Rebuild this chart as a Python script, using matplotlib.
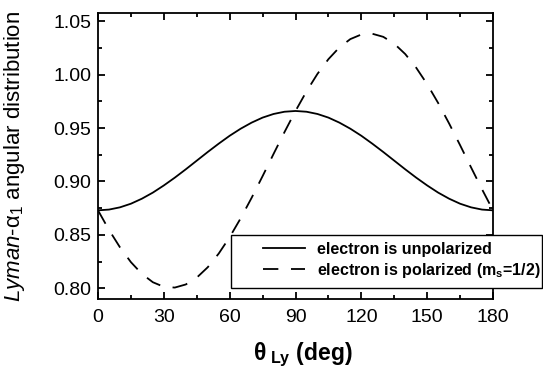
import matplotlib
matplotlib.use('Agg')
import matplotlib.pyplot as plt
from matplotlib.patches import Rectangle
from matplotlib.ticker import MultipleLocator

plt.rcParams['font.family'] = ['Liberation Sans', 'DejaVu Sans']
plt.rcParams['mathtext.fontset'] = 'custom'
plt.rcParams['mathtext.rm'] = 'Liberation Sans'
plt.rcParams['mathtext.it'] = 'Liberation Sans:italic'
plt.rcParams['mathtext.bf'] = 'Liberation Sans:bold'

# angle in degrees
theta = [0, 5, 10, 15, 20, 25, 30, 35, 40, 45, 50, 55, 60, 65, 70, 75, 80, 85, 90,
         95, 100, 105, 110, 115, 120, 125, 130, 135, 140, 145, 150, 155, 160, 165,
         170, 175, 180]
unpolarized = [0.873, 0.8737, 0.8758, 0.8792, 0.8839, 0.8896, 0.8963, 0.9036, 0.9114,
               0.9195, 0.9276, 0.9354, 0.9428, 0.9494, 0.9551, 0.9598, 0.9632, 0.9653,
               0.966, 0.9653, 0.9632, 0.9598, 0.9551, 0.9494, 0.9428, 0.9354, 0.9276,
               0.9195, 0.9114, 0.9036, 0.8963, 0.8896, 0.8839, 0.8792, 0.8758, 0.8737,
               0.873]
polarized = [0.873, 0.8547, 0.8384, 0.8245, 0.8135, 0.8057, 0.8014, 0.8007, 0.8036,
             0.8100, 0.8197, 0.8325, 0.8479, 0.8655, 0.8847, 0.9050, 0.9258, 0.9463,
             0.9660, 0.9843, 1.0007, 1.0145, 1.0255, 1.0333, 1.0376, 1.0383, 1.0354,
             1.0290, 1.0193, 1.0065, 0.9911, 0.9735, 0.9543, 0.9340, 0.9132, 0.8927,
             0.873]
labels = ['electron is unpolarized', r'electron is polarized (m$_{\mathbf{s}}$=1/2)']

fig = plt.figure(figsize=(5.43, 3.74), dpi=100)
ax = fig.add_axes([98/543, 1-299/374, (493-98)/543, (299-12.7)/374])

l1, = ax.plot(theta, unpolarized, color='black', lw=1.3)
l2, = ax.plot(theta, polarized, color='black', lw=1.3, dashes=(8.5, 7))

ax.set_xlim(0, 180)
ax.set_ylim(0.79, 1.058)
ax.xaxis.set_major_locator(MultipleLocator(30))
ax.xaxis.set_minor_locator(MultipleLocator(15))
ax.yaxis.set_major_locator(MultipleLocator(0.05))
ax.yaxis.set_minor_locator(MultipleLocator(0.025))
ax.yaxis.set_major_formatter(matplotlib.ticker.FormatStrFormatter('%.2f'))
ax.tick_params(which='both', direction='in', top=True, right=True, width=1.3)
ax.tick_params(which='major', length=5, labelsize=14, pad=5)
ax.tick_params(axis='x', which='major', pad=7)
ax.tick_params(which='minor', length=3)
for s in ax.spines.values():
    s.set_linewidth(1.3)

fig.text(15/543, 1-156/374, r'$\mathit{Lyman}$-α$_1$ angular distribution',
         fontsize=16, rotation=90, ha='center', va='center')
fig.text(303/543, 1-360/374, r'$\mathbf{θ}_{\mathbf{\ Ly}}$ (deg)',
         fontsize=16.5, fontweight='bold', ha='center', va='baseline')

box = Rectangle((231/543, 1-288/374), (542-231)/543, (288-235)/374,
                transform=fig.transFigure, facecolor='white', edgecolor='black',
                lw=1.0, zorder=4)
fig.add_artist(box)
leg = fig.legend([l1, l2], labels, loc='upper left',
                 bbox_to_anchor=(263/543, 1-242/374), frameon=False,
                 borderpad=0, borderaxespad=0, handlelength=2.6, handletextpad=0.8,
                 labelspacing=0.25, prop={'size': 11.5, 'weight': 'bold'})
leg.set_zorder(5)

fig.savefig('out.png', dpi=100)
